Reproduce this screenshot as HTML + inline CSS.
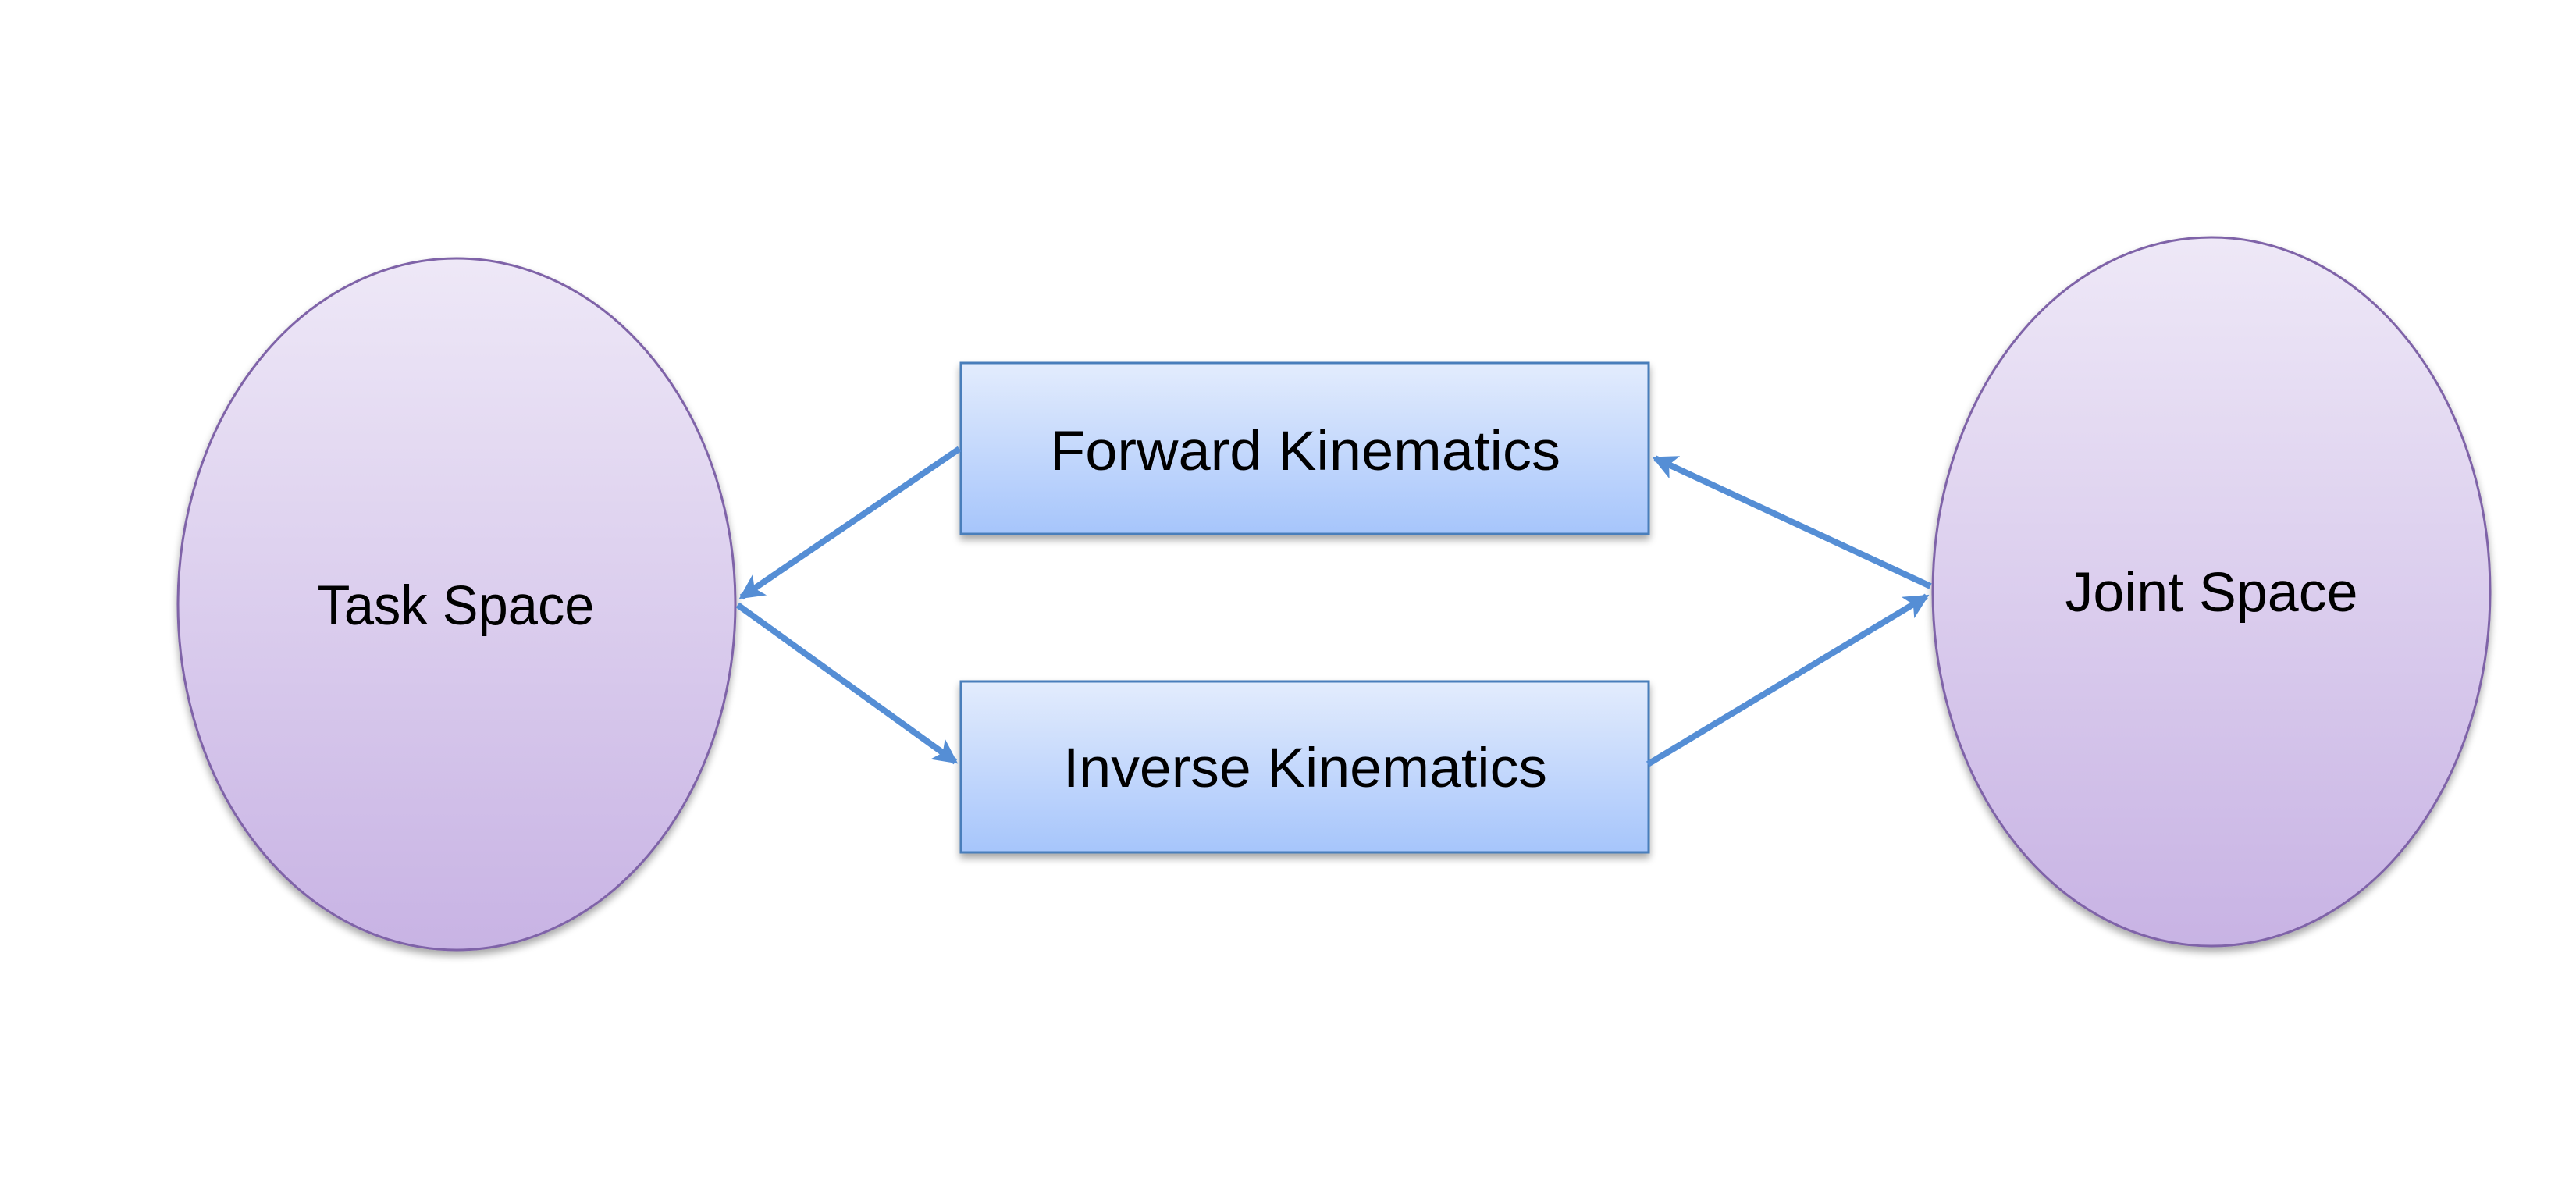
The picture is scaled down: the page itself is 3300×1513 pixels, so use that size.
<!DOCTYPE html>
<html><head><meta charset="utf-8"><style>html,body{margin:0;padding:0;background:#fff}svg{display:block}</style></head>
<body>
<svg width="3300" height="1513" viewBox="0 0 3300 1513" xmlns="http://www.w3.org/2000/svg">
<defs>
<linearGradient id="eg" x1="0" y1="0" x2="0" y2="1"><stop offset="0" stop-color="#eee8f7"/><stop offset="1" stop-color="#c8b3e4"/></linearGradient>
<linearGradient id="bg" x1="0" y1="0" x2="0" y2="1"><stop offset="0" stop-color="#e3ecfd"/><stop offset="1" stop-color="#a6c5fb"/></linearGradient>
<filter id="sh" x="-10%" y="-10%" width="120%" height="130%"><feGaussianBlur in="SourceAlpha" stdDeviation="5"/><feOffset dx="0" dy="6"/><feComponentTransfer><feFuncA type="linear" slope="0.35"/></feComponentTransfer><feMerge><feMergeNode/><feMergeNode in="SourceGraphic"/></feMerge></filter>
<marker id="ah" markerWidth="4" markerHeight="4" refX="3.5" refY="2" orient="auto" markerUnits="strokeWidth"><path d="M0,0 L4,2 L0,4 L1,2 Z" fill="#558ed5"/></marker>
</defs>
<ellipse cx="585" cy="774" rx="357" ry="443" fill="url(#eg)" stroke="#7f63a8" stroke-width="3" filter="url(#sh)"/>
<ellipse cx="2833" cy="758" rx="357" ry="454" fill="url(#eg)" stroke="#7f63a8" stroke-width="3" filter="url(#sh)"/>
<rect x="1231" y="465" width="881" height="219" fill="url(#bg)" stroke="#4a7ebb" stroke-width="3" filter="url(#sh)"/>
<rect x="1231" y="873" width="881" height="219" fill="url(#bg)" stroke="#4a7ebb" stroke-width="3" filter="url(#sh)"/>
<g stroke="#558ed5" stroke-width="8" fill="none">
<line x1="1229" y1="575" x2="950" y2="765" marker-end="url(#ah)"/>
<line x1="945" y1="775" x2="1224" y2="976" marker-end="url(#ah)"/>
<line x1="2473" y1="751" x2="2120" y2="587" marker-end="url(#ah)"/>
<line x1="2111" y1="979" x2="2468" y2="764" marker-end="url(#ah)"/>
</g>
<g font-family="Liberation Sans, sans-serif" font-size="71" fill="#000" text-anchor="middle">
<text x="1672" y="602" textLength="654" lengthAdjust="spacingAndGlyphs">Forward Kinematics</text>
<text x="1672" y="1008" textLength="620" lengthAdjust="spacingAndGlyphs">Inverse Kinematics</text>
<text x="584" y="800" textLength="355" lengthAdjust="spacingAndGlyphs">Task Space</text>
<text x="2833" y="783" textLength="375" lengthAdjust="spacingAndGlyphs">Joint Space</text>
</g>
</svg>
</body></html>
